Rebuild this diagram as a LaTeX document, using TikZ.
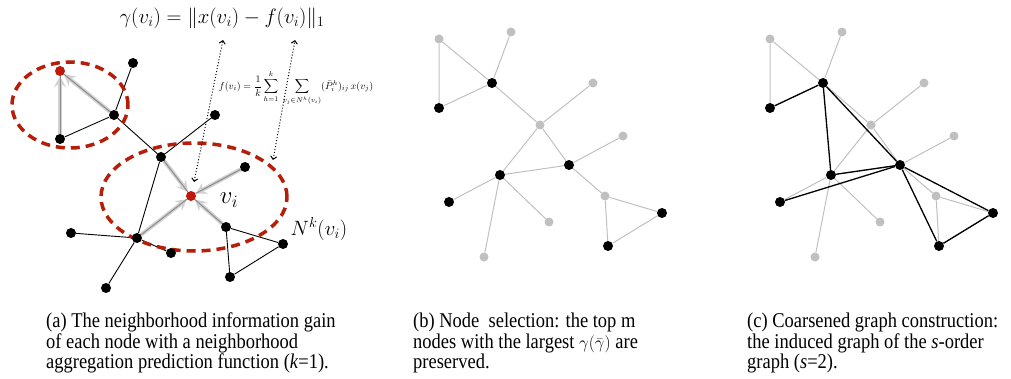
\documentclass[tikz,border=0pt]{standalone}
\usepackage{amsmath,amssymb}
\usepackage{fontspec}
\setmainfont{Liberation Serif}
\newfontfamily\capfont[FakeStretch=0.88]{Liberation Serif}
\usetikzlibrary{arrows.meta}
\pgfdeclarelayer{bg}
\pgfsetlayers{bg,main}
\definecolor{nodered}{RGB}{192,24,10}
\definecolor{hoodred}{RGB}{182,30,10}
\definecolor{lgray}{RGB}{192,192,192}

\begin{document}
\begin{tikzpicture}[x=1pt, y=-1pt,
  dot/.style={circle, fill=black, inner sep=0pt, minimum size=10pt},
  gdot/.style={circle, fill=lgray, inner sep=0pt, minimum size=9pt},
  rdot/.style={circle, fill=nodered, inner sep=0pt, minimum size=10pt},
  link/.style={line width=0.9pt},
  glink/.style={draw=lgray, line width=1pt},
  klink/.style={line width=1.3pt},
  gain/.style={draw=black!45, line width=1pt, preaction={draw=black!18, line width=4pt, -{Stealth[length=11pt,width=12pt,inset=4pt]}}},
  hood/.style={draw=hoodred, line width=3.5pt, dash pattern=on 9pt off 6pt},
  dots/.style={dotted, line width=1pt, {Straight Barb[length=3pt,width=6pt]}-{Straight Barb[length=3pt,width=6pt]}},
  subcap/.style={font=\capfont\fontsize{21}{20.5}\selectfont, align=left, anchor=north west, inner sep=0pt}
]
  \useasboundingbox (0,0) rectangle (1011,379);

  \node[rdot] (a1) at (60,71) {};
  \node[dot] (a2) at (60,139) {};
  \node[dot] (a3) at (114,115) {};
  \node[dot] (a4) at (133,63) {};
  \node[dot] (a5) at (161,157) {};
  \node[dot] (a6) at (215,115) {};
  \node[rdot] (vi) at (191,196) {};
  \node[dot] (a7) at (245,167) {};
  \node[dot] (a8) at (137,238) {};
  \node[dot] (a9) at (226,227) {};
  \node[dot] (a10) at (71,233) {};
  \node[dot] (a11) at (171,253) {};
  \node[dot] (a12) at (283,244) {};
  \node[dot] (a13) at (230,277) {};
  \node[dot] (a14) at (106,288) {};

  \node (vilabel) at (229,200) {\fontsize{26}{26}\selectfont $v_i$};
  \node (nklabel) at (319,229) {\fontsize{20}{20}\selectfont $N^k(v_i)$};
  \node (gamma) at (222,18) {\fontsize{19.5}{19.5}\selectfont $\gamma(v_i) =\| x(v_i) - f(v_i) \|_1$};
  \node (favg) at (296,88) {\fontsize{10}{10}\selectfont $\displaystyle f(v_i)=\frac{1}{k}\sum_{h=1}^{k}\;\sum_{v_j\in N^h(v_i)}(\bar{P}_i^{h})_{ij}\,x(v_j)$};

  \coordinate (xtip) at (223,40);
  \coordinate (xend) at (194,182);
  \coordinate (ftip) at (295,40);
  \coordinate (fend) at (273,160);

  \begin{pgfonlayer}{bg}
    \draw[link] (a2) -- (a3) -- (a4);
    \draw[link] (a3) -- (a5) -- (a6);
    \draw[link] (a5) -- (a8);
    \draw[link] (a8) -- (a10);
    \draw[link] (a8) -- (a11);
    \draw[link] (a8) -- (a14);
    \draw[link] (a9) -- (a12) -- (a13) -- (a9);
    \draw[gain] (a2) -- (a1);
    \draw[gain] (a3) -- (a1);
    \draw[gain] (a5) -- (vi);
    \draw[gain] (a7) -- (vi);
    \draw[gain] (a8) -- (vi);
    \draw[gain] (a9) -- (vi);
    \draw[hood] (70,105) ellipse [x radius=58pt, y radius=43pt];
    \draw[hood] (194,197) ellipse [x radius=93pt, y radius=54pt];
  \end{pgfonlayer}

  \draw[dots] (xend) -- (xtip);
  \draw[dots] (fend) -- (ftip);

  \node[gdot] (b1) at (439,39) {};
  \node[gdot] (b2) at (511,32) {};
  \node[dot] (b3) at (492,83) {};
  \node[dot] (b4) at (439,108) {};
  \node[gdot] (b5) at (593,83) {};
  \node[gdot] (b6) at (540,125) {};
  \node[gdot] (b7) at (623,136) {};
  \node[dot] (b8) at (569,165) {};
  \node[dot] (b9) at (500,175) {};
  \node[dot] (b10) at (449,202) {};
  \node[gdot] (b11) at (605,196) {};
  \node[dot] (b12) at (662,213) {};
  \node[gdot] (b13) at (549,222) {};
  \node[dot] (b14) at (608,246) {};
  \node[gdot] (b15) at (484,257) {};

  \begin{pgfonlayer}{bg}
    \draw[glink] (b4) -- (b1) -- (b3) -- (b4);
    \draw[glink] (b2) -- (b3) -- (b6) -- (b5);
    \draw[glink] (b9) -- (b6) -- (b8) -- (b7);
    \draw[glink] (b9) -- (b8) -- (b11);
    \draw[glink] (b10) -- (b9) -- (b13);
    \draw[glink] (b9) -- (b15);
    \draw[glink] (b11) -- (b12) -- (b14) -- (b11);
  \end{pgfonlayer}

  \node[gdot] (c1) at (770,39) {};
  \node[gdot] (c2) at (842,32) {};
  \node[dot] (c3) at (823,83) {};
  \node[dot] (c4) at (770,108) {};
  \node[gdot] (c5) at (924,83) {};
  \node[gdot] (c6) at (871,125) {};
  \node[gdot] (c7) at (954,136) {};
  \node[dot] (c8) at (900,165) {};
  \node[dot] (c9) at (831,175) {};
  \node[dot] (c10) at (780,202) {};
  \node[gdot] (c11) at (936,196) {};
  \node[dot] (c12) at (993,213) {};
  \node[gdot] (c13) at (880,222) {};
  \node[dot] (c14) at (939,246) {};
  \node[gdot] (c15) at (815,257) {};

  \begin{pgfonlayer}{bg}
    \draw[glink] (c4) -- (c1) -- (c3) -- (c4);
    \draw[glink] (c2) -- (c3) -- (c6) -- (c5);
    \draw[glink] (c9) -- (c6) -- (c8) -- (c7);
    \draw[glink] (c9) -- (c8) -- (c11);
    \draw[glink] (c10) -- (c9) -- (c13);
    \draw[glink] (c9) -- (c15);
    \draw[glink] (c11) -- (c12) -- (c14) -- (c11);
    \draw[klink] (c4) -- (c3) -- (c9) -- (c8) -- (c3);
    \draw[klink] (c10) -- (c8) -- (c12) -- (c14) -- (c8);
  \end{pgfonlayer}

  \node[subcap] (capa) at (46,313) {(a) The neighborhood information gain\\of each node with a neighborhood\\aggregation prediction function (\textit{k}=1).};
  \node[subcap] (capb) at (413,313) {(b) Node\ \ selection: the top m\\nodes with the largest {\fontsize{17}{17}\selectfont$\gamma(\bar{\gamma})$} are\\preserved.};
  \node[subcap] (capc) at (747,313) {(c) Coarsened graph construction:\\the induced graph of the \textit{s}-order\\graph (\textit{s}=2).};
\end{tikzpicture}
\end{document}
